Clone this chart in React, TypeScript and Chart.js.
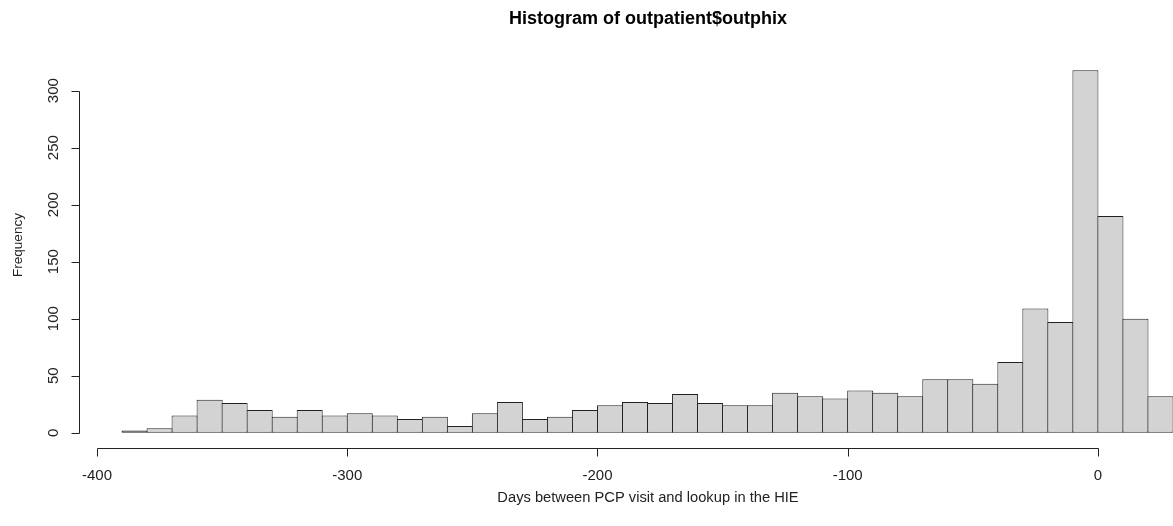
import React, { useEffect, useRef } from "react";
import { Chart, registerables } from "chart.js";

Chart.register(...registerables);

// ---- data ----
const binStarts = [
  -390, -380, -370, -360, -350, -340, -330, -320, -310, -300,
  -290, -280, -270, -260, -250, -240, -230, -220, -210, -200,
  -190, -180, -170, -160, -150, -140, -130, -120, -110, -100,
  -90, -80, -70, -60, -50, -40, -30, -20, -10, 0,
  10, 20,
];
const counts = [
  2, 4, 15, 29, 26, 20, 14, 20, 15, 17,
  15, 12, 14, 6, 17, 27, 12, 14, 20, 24,
  27, 26, 34, 26, 24, 24, 35, 32, 30, 37,
  35, 32, 47, 47, 43, 62, 109, 97, 318, 190,
  100, 32,
];
const binWidth = 10;
const xTicks = [-400, -300, -200, -100, 0];
const yTicks = [0, 50, 100, 150, 200, 250, 300];
const titleText = "Histogram of outpatient$outphix";
const xTitleText = "Days between PCP visit and lookup in the HIE";
const yTitleText = "Frequency";

const FONT = "'Liberation Sans', Arial, Helvetica, sans-serif";
const INK = "#222";
const LINE = "#222";
const TICK_LEN = 8;

const rStylePlugin = {
  id: "rStyle",
  afterDraw(chart: any) {
    const ctx = chart.ctx as CanvasRenderingContext2D;
    const xs = chart.scales.x;
    const ys = chart.scales.y;
    const ca = chart.chartArea;
    ctx.save();
    ctx.strokeStyle = LINE;
    ctx.lineWidth = 1;

    // x axis line + ticks (only over the tick range, as R does)
    const yLine = Math.round(ca.bottom) + 0.5;
    const px = (v: number) => Math.round(xs.getPixelForValue(v)) + 0.5;
    ctx.beginPath();
    ctx.moveTo(px(xTicks[0]), yLine);
    ctx.lineTo(px(xTicks[xTicks.length - 1]), yLine);
    xTicks.forEach((v) => {
      ctx.moveTo(px(v), yLine);
      ctx.lineTo(px(v), yLine + TICK_LEN);
    });
    ctx.stroke();

    // y axis line + ticks
    const xLine = Math.round(ca.left) - 0.5;
    const py = (v: number) => Math.round(ys.getPixelForValue(v)) + 0.5;
    ctx.beginPath();
    ctx.moveTo(xLine, py(yTicks[0]));
    ctx.lineTo(xLine, py(yTicks[yTicks.length - 1]));
    yTicks.forEach((v) => {
      ctx.moveTo(xLine, py(v));
      ctx.lineTo(xLine - TICK_LEN, py(v));
    });
    ctx.stroke();

    // y tick labels, rotated like R (las = 0)
    ctx.fillStyle = INK;
    ctx.font = `15px ${FONT}`;
    ctx.textAlign = "center";
    ctx.textBaseline = "middle";
    yTicks.forEach((v) => {
      ctx.save();
      ctx.translate(ca.left - 26, ys.getPixelForValue(v));
      ctx.rotate(-Math.PI / 2);
      ctx.fillText(String(v), 0, 0);
      ctx.restore();
    });

    // main title
    ctx.font = `bold 18px ${FONT}`;
    ctx.fillStyle = "#000";
    ctx.fillText(titleText, 648, 19);

    // x title
    ctx.font = `14.7px ${FONT}`;
    ctx.fillStyle = INK;
    ctx.fillText(xTitleText, 648, 498);

    // y title
    ctx.save();
    ctx.translate(18, 245);
    ctx.rotate(-Math.PI / 2);
    ctx.font = `13.5px ${FONT}`;
    ctx.fillText(yTitleText, 0, 0);
    ctx.restore();

    ctx.restore();
  },
};

export default function App() {
  const canvasRef = useRef<HTMLCanvasElement | null>(null);

  useEffect(() => {
    document.body.style.margin = "0";
    const canvas = canvasRef.current;
    if (!canvas) return;
    const chart = new Chart(canvas, {
      type: "bar",
      data: {
        datasets: [
          {
            data: binStarts.map((s, i) => ({ x: s + binWidth / 2, y: counts[i] })),
            backgroundColor: "#d3d3d3",
            borderColor: LINE,
            borderWidth: 1,
            borderSkipped: false,
            barPercentage: 1.04,
            categoryPercentage: 1,
            grouped: false,
          } as any,
        ],
      },
      options: {
        animation: false,
        responsive: false,
        devicePixelRatio: 1,
        layout: { padding: { top: 56, left: 0, right: 0, bottom: 0 } },
        plugins: {
          legend: { display: false },
          tooltip: { enabled: false },
          title: { display: false },
        },
        scales: {
          x: {
            type: "linear",
            min: -406.8,
            max: 30,
            offset: false,
            afterBuildTicks: (scale: any) => {
              scale.ticks = xTicks.map((v) => ({ value: v }));
            },
            afterFit: (scale: any) => {
              scale.height = 78;
            },
            grid: { display: false, offset: false },
            border: { display: false },
            ticks: {
              autoSkip: false,
              maxRotation: 0,
              minRotation: 0,
              padding: 11,
              color: INK,
              font: { family: FONT, size: 15 },
              callback: (v: any) => String(v),
            },
          },
          y: {
            type: "linear",
            min: -13.4,
            max: 330.4,
            afterBuildTicks: (scale: any) => {
              scale.ticks = yTicks.map((v) => ({ value: v }));
            },
            afterFit: (scale: any) => {
              scale.width = 80;
            },
            grid: { display: false },
            border: { display: false },
            ticks: { display: false },
          },
        },
      } as any,
      plugins: [rStylePlugin],
    });
    return () => chart.destroy();
  }, []);

  return (
    <div style={{ position: "absolute", left: 0, top: 0, width: 1173, height: 526, background: "#fff" }}>
      <canvas ref={canvasRef} width={1173} height={526} style={{ display: "block" }} />
    </div>
  );
}
